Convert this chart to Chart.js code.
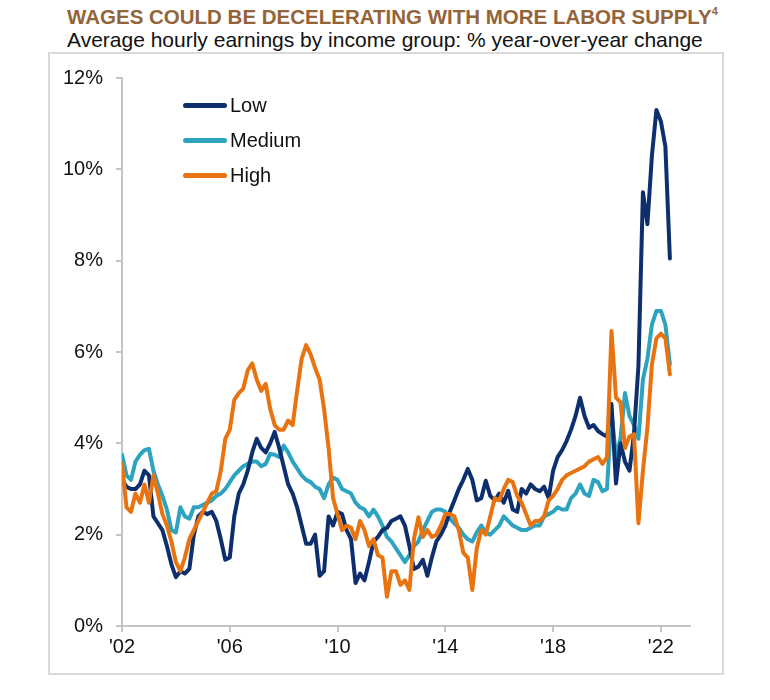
<!DOCTYPE html>
<html>
<head>
<meta charset="utf-8">
<script src="https://cdn.jsdelivr.net/npm/chart.js@4.4.1/dist/chart.umd.min.js"></script>
<style>
  body { margin: 0; background: #fff; width: 770px; height: 700px; position: relative; font-family: "Liberation Sans", Arial, sans-serif; }
  .title { position: absolute; left: 67px; top: 5px; font-family: "Liberation Sans Narrow", "Arial Narrow", "Liberation Sans", sans-serif; font-weight: bold; font-size: 20.5px; color: #93643a; white-space: nowrap; }
  .title sup { font-size: 11px; vertical-align: 9px; }
  .subtitle { position: absolute; left: 67px; top: 28px; font-size: 21px; color: #111; white-space: nowrap; }
  .box { position: absolute; left: 48px; top: 52px; width: 672px; height: 619px; border: 2px solid #d9d9d9; }
  #wrap { position: absolute; left: 48px; top: 53px; width: 674px; height: 620px; }
  #legend { position: absolute; left: 183px; top: 100px; }
  #legend div { height: 35px; display: flex; align-items: center; font-size: 20px; color: #111; margin-top: -12px; margin-bottom: 12px; }
  #legend span.sw { display: inline-block; width: 44px; height: 5px; border-radius: 3px; margin-right: 3px; }
</style>
</head>
<body>
<div class="title">WAGES COULD BE DECELERATING WITH MORE LABOR SUPPLY<sup>4</sup></div>
<div class="subtitle">Average hourly earnings by income group: % year-over-year change</div>
<div class="box"></div>
<div id="wrap"><canvas id="wageChart" width="674" height="620"></canvas></div>
<div id="legend"></div>
<script>
// bi-monthly readings, Jan 2002 onward (6 per year)
const startYear = 2002;
const perYear = 6;
const tickYears = [2002, 2006, 2010, 2014, 2018, 2022];
const yTicks = [0, 2, 4, 6, 8, 10, 12];

const lowData = [
  3.2, 3.05, 3.0, 3.0, 3.1, 3.4,      // 2002
  3.3, 2.4, 2.25, 2.1, 1.75, 1.35,    // 2003
  1.07, 1.2, 1.15, 1.25, 2.0, 2.4,    // 2004
  2.5, 2.45, 2.5, 2.3, 1.9, 1.45,     // 2005
  1.5, 2.4, 2.9, 3.1, 3.4, 3.8,       // 2006
  4.1, 3.9, 3.8, 4.0, 4.25, 3.9,      // 2007
  3.5, 3.1, 2.9, 2.6, 2.2, 1.8,       // 2008
  1.8, 2.0, 1.1, 1.2, 2.4, 2.2,       // 2009
  2.5, 2.45, 2.1, 1.9, 0.94, 1.15,    // 2010
  1.0, 1.4, 1.85, 1.95, 2.1, 2.15,    // 2011
  2.3, 2.35, 2.4, 2.2, 1.75, 1.25,    // 2012
  1.3, 1.45, 1.1, 1.5, 1.85, 2.0,     // 2013
  2.2, 2.5, 2.75, 3.0, 3.2, 3.44,     // 2014
  3.2, 2.75, 2.8, 3.18, 2.85, 2.75,   // 2015
  2.9, 2.7, 2.96, 2.55, 2.5, 3.0,     // 2016
  2.9, 3.1, 3.0, 2.95, 3.05, 2.8,     // 2017
  3.4, 3.7, 3.85, 4.05, 4.3, 4.6,     // 2018
  5.0, 4.6, 4.34, 4.4, 4.27, 4.2,     // 2019
  4.15, 4.86, 3.12, 4.0, 3.6, 3.4,    // 2020
  4.2, 5.7, 9.5, 8.8, 10.3, 11.3,     // 2021
  11.05, 10.5, 8.05                   // 2022
];

const mediumData = [
  3.75, 3.3, 3.2, 3.6, 3.75, 3.85,    // 2002
  3.88, 3.4, 3.1, 2.85, 2.55, 2.1,    // 2003
  2.05, 2.6, 2.4, 2.35, 2.6, 2.6,     // 2004
  2.65, 2.7, 2.75, 2.85, 2.9, 3.0,    // 2005
  3.15, 3.3, 3.4, 3.5, 3.55, 3.6,     // 2006
  3.6, 3.5, 3.55, 3.77, 3.75, 3.7,    // 2007
  3.95, 3.8, 3.6, 3.45, 3.3, 3.2,     // 2008
  3.15, 3.05, 3.0, 2.8, 3.1, 3.25,    // 2009
  3.2, 3.0, 2.95, 2.9, 2.7, 2.6,      // 2010
  2.55, 2.4, 2.55, 2.4, 2.2, 1.95,    // 2011
  1.85, 1.7, 1.55, 1.4, 1.55, 1.75,   // 2012
  1.85, 2.1, 2.3, 2.5, 2.55, 2.55,    // 2013
  2.5, 2.35, 2.25, 2.15, 2.0, 1.9,    // 2014
  1.85, 2.05, 2.2, 2.05, 2.0, 2.1,    // 2015
  2.2, 2.4, 2.3, 2.2, 2.15, 2.1,      // 2016
  2.1, 2.15, 2.2, 2.2, 2.4, 2.45,     // 2017
  2.5, 2.6, 2.55, 2.55, 2.8, 2.9,     // 2018
  3.1, 2.9, 2.85, 3.2, 3.15, 2.95,    // 2019
  3.0, 4.7, 3.7, 4.1, 5.1, 4.6,       // 2020
  4.4, 4.1, 5.4, 5.85, 6.6, 6.9,      // 2021
  6.9, 6.6, 5.73                      // 2022
];

const highData = [
  3.55, 2.6, 2.5, 2.9, 2.7, 3.1,      // 2002
  2.7, 3.3, 2.9, 2.45, 2.2, 1.85,     // 2003
  1.4, 1.2, 1.5, 1.9, 2.1, 2.3,       // 2004
  2.5, 2.7, 2.9, 2.95, 3.4, 4.1,      // 2005
  4.3, 4.95, 5.1, 5.2, 5.6, 5.75,     // 2006
  5.4, 5.15, 5.3, 4.75, 4.4, 4.3,     // 2007
  4.3, 4.5, 4.4, 5.15, 5.85, 6.15,    // 2008
  5.95, 5.65, 5.4, 4.75, 3.9, 2.8,    // 2009
  2.45, 2.1, 2.2, 2.15, 1.9, 2.3,     // 2010
  2.1, 1.75, 1.9, 1.55, 1.5, 0.64,    // 2011
  1.2, 1.2, 0.9, 1.0, 0.79, 1.9,      // 2012
  2.38, 1.95, 2.1, 1.95, 2.0, 2.2,    // 2013
  2.45, 2.45, 2.4, 2.1, 1.6, 1.5,     // 2014
  0.79, 1.7, 2.1, 2.0, 2.4, 2.8,      // 2015
  2.75, 3.0, 3.2, 3.15, 2.85, 2.7,    // 2016
  2.45, 2.2, 2.3, 2.3, 2.4, 2.75,     // 2017
  2.85, 3.0, 3.2, 3.3, 3.35, 3.4,     // 2018
  3.45, 3.5, 3.6, 3.65, 3.7, 3.55,    // 2019
  3.7, 6.46, 5.0, 4.9, 3.9, 4.15,     // 2020
  4.2, 2.25, 3.4, 4.35, 5.73, 6.3,    // 2021
  6.4, 6.3, 5.51                      // 2022
];

const periods = lowData.map((_, i) => startYear + i / perYear);
const toPoints = arr => arr.map((v, i) => ({ x: periods[i], y: v }));

const ctx = document.getElementById('wageChart');
const chart = new Chart(ctx, {
  type: 'line',
  data: {
    datasets: [
      { label: 'Low', data: toPoints(lowData), borderColor: '#0e2f6d', order: 1 },
      { label: 'Medium', data: toPoints(mediumData), borderColor: '#2ea3bf', order: 2 },
      { label: 'High', data: toPoints(highData), borderColor: '#e8730f', order: 0 }
    ]
  },
  options: {
    responsive: false,
    animation: false,
    layout: { padding: { top: 23, right: 32, left: 0, bottom: 0 } },
    elements: {
      line: { borderWidth: 4, tension: 0, borderJoinStyle: 'round', borderCapStyle: 'round' },
      point: { radius: 0 }
    },
    plugins: { legend: { display: false }, tooltip: { enabled: false } },
    scales: {
      x: {
        type: 'linear',
        min: 2002,
        max: 2023.08,
        afterBuildTicks: s => { s.ticks = tickYears.map(v => ({ value: v })); },
        afterFit: s => { s.height = 47; },
        grid: { drawOnChartArea: false, drawTicks: true, tickLength: 6, color: '#c4c4c4', lineWidth: 2 },
        border: { color: '#c4c4c4', width: 2 },
        ticks: {
          color: '#111',
          font: { family: 'Liberation Sans', size: 20 },
          padding: 3,
          maxRotation: 0,
          callback: v => "'" + String(v).slice(2)
        }
      },
      y: {
        min: 0,
        max: 12,
        afterBuildTicks: s => { s.ticks = yTicks.map(v => ({ value: v })); },
        afterFit: s => { s.width = 74; },
        grid: { drawOnChartArea: false, drawTicks: true, tickLength: 6, color: '#c4c4c4', lineWidth: 2 },
        border: { color: '#c4c4c4', width: 2 },
        ticks: {
          color: '#111',
          font: { family: 'Liberation Sans', size: 20 },
          padding: 13,
          callback: v => v + '%'
        }
      }
    }
  }
});

// legend inside the plot, built from the datasets
const legend = document.getElementById('legend');
chart.data.datasets.forEach(ds => {
  const row = document.createElement('div');
  const sw = document.createElement('span');
  sw.className = 'sw';
  sw.style.background = ds.borderColor;
  row.appendChild(sw);
  row.appendChild(document.createTextNode(ds.label));
  legend.appendChild(row);
});
</script>
</body>
</html>
